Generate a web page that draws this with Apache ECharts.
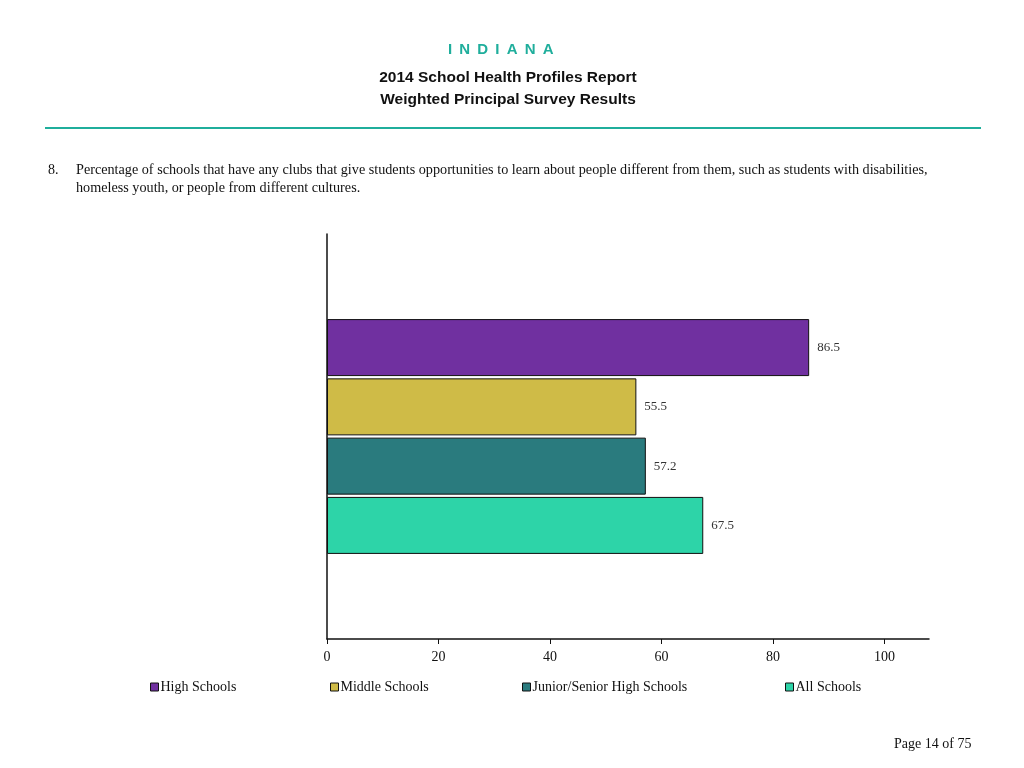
<!DOCTYPE html>
<html>
<head>
<meta charset="utf-8">
<script src="https://cdn.jsdelivr.net/npm/echarts@6/dist/echarts.min.js"></script>
<style>
  html, body { margin: 0; padding: 0; background: #fff; }
  #main { width: 1024px; height: 768px; }
</style>
</head>
<body>
<div id="main"></div>
<script>
var seriesNames = ["High Schools", "Middle Schools", "Junior/Senior High Schools", "All Schools"];
var seriesValues = [86.5, 55.5, 57.2, 67.5];
var seriesColors = ["#7030a0", "#cfbb47", "#2a7b7e", "#2dd4a8"];
var categories = [""];
var tickValues = [0, 20, 40, 60, 80, 100];
var legendLeft = [150, 330, 522, 785];

var serif = "'Liberation Serif', 'Times New Roman', serif";
var sans = "'Liberation Sans', Arial, sans-serif";

var myChart = echarts.init(document.getElementById("main"));

var series = [];
var legends = [];
for (var i = 0; i < seriesNames.length; i++) {
  series.push({
    name: seriesNames[i],
    type: "bar",
    data: [seriesValues[i]],
    barWidth: 57,
    barGap: "4%",
    itemStyle: { color: seriesColors[i], borderColor: "#111", borderWidth: 1 },
    label: {
      show: true,
      position: "right",
      distance: 8,
      fontFamily: serif,
      fontSize: 13,
      color: "#333"
    }
  });
  // one legend per item so the spacing follows the original
  legends.push({
    left: legendLeft[i],
    top: 680,
    padding: 0,
    itemWidth: 8,
    itemHeight: 8,
    icon: "rect",
    itemStyle: { borderColor: "#111", borderWidth: 1 },
    textStyle: { fontFamily: serif, fontSize: 14, color: "#111", padding: [0, 0, 0, -3] },
    data: [seriesNames[i]]
  });
}

myChart.setOption({
  animation: false,
  color: seriesColors,
  grid: { left: 327, right: 95, top: 234, bottom: 129 },
  legend: legends,
  xAxis: {
    type: "value",
    min: 0,
    max: 108,
    interval: 20,
    axisLine: { show: true, lineStyle: { color: "#111", width: 1.5 } },
    axisTick: { show: true, length: 5, lineStyle: { color: "#111" }, customValues: tickValues },
    axisLabel: { customValues: tickValues, margin: 11, fontFamily: serif, fontSize: 14, color: "#111" },
    splitLine: { show: false }
  },
  yAxis: {
    type: "category",
    inverse: true,
    data: categories,
    axisLine: { show: true, lineStyle: { color: "#111", width: 1.5 } },
    axisTick: { show: false },
    axisLabel: { show: false }
  },
  graphic: [
    { type: "text", x: 448, y: 42, style: { text: "I\u2009 N\u2009 D\u2009 I\u2009 A\u2009 N\u2009 A", font: "bold 15px " + sans, fill: "#1fae9c" } },
    { type: "text", x: 508, y: 70, style: { text: "2014 School Health Profiles Report", textAlign: "center", font: "bold 15.5px " + sans, fill: "#111" } },
    { type: "text", x: 508, y: 92, style: { text: "Weighted Principal Survey Results", textAlign: "center", font: "bold 15.5px " + sans, fill: "#111" } },
    { type: "rect", shape: { x: 45, y: 127, width: 936, height: 2 }, style: { fill: "#1fae9c" } },
    { type: "text", left: 48, top: 163, style: { text: "8.", font: "14px " + serif, fill: "#111" } },
    { type: "text", left: 76, top: 163, style: { text: "Percentage of schools that have any clubs that give students opportunities to learn about people different from them, such as students with disabilities,", font: "14.2px " + serif, fill: "#111" } },
    { type: "text", left: 76, top: 181, style: { text: "homeless youth, or people from different cultures.", font: "14.2px " + serif, fill: "#111" } },
    { type: "text", left: 894, top: 737, style: { text: "Page 14 of 75", font: "14px " + serif, fill: "#111" } }
  ],
  series: series
});
</script>
</body>
</html>
